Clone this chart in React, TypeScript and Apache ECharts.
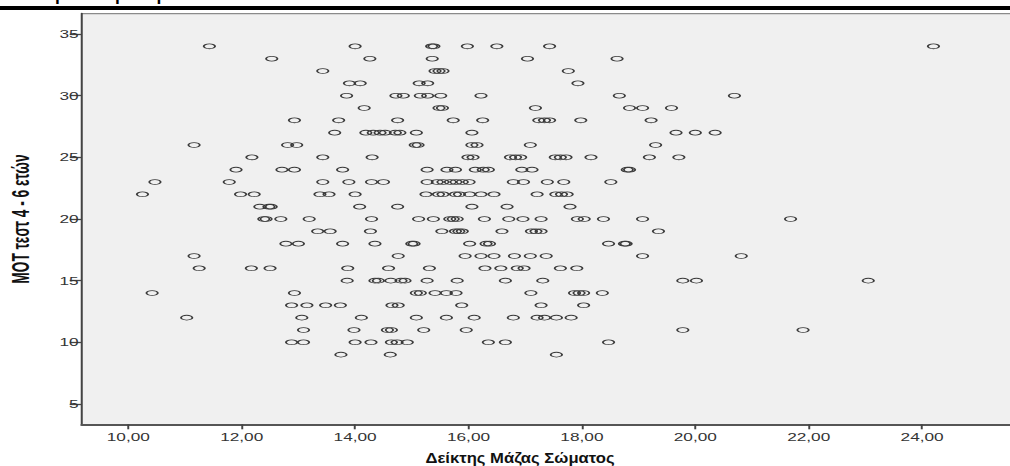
import React, { useEffect, useRef } from "react";
import * as echarts from "echarts";

// Tick labels
const xTicks = [10, 12, 14, 16, 18, 20, 22, 24];
const yTicks = [5, 10, 15, 20, 25, 30, 35];

// MOT score levels (y) and the BMI values (x) read for each level
const scoreLevels = [34, 33, 32, 31, 30, 29, 28, 27, 26, 25, 24, 23, 22, 21, 20, 19, 18, 17, 16, 15, 14, 13, 12, 11, 10, 9];
const bmiAt34 = [11.43, 14.0, 15.35, 15.39, 15.98, 16.5, 17.43, 24.2];
const bmiAt33 = [12.53, 14.26, 15.36, 17.04, 18.62];
const bmiAt32 = [13.43, 15.41, 15.48, 15.55, 17.76];
const bmiAt31 = [13.9, 14.09, 15.13, 15.28, 17.93];
const bmiAt30 = [13.85, 14.72, 14.85, 15.15, 15.28, 15.51, 16.22, 18.66, 20.69];
const bmiAt29 = [14.16, 15.48, 15.54, 17.18, 18.84, 19.07, 19.58];
const bmiAt28 = [12.93, 13.71, 14.75, 15.73, 16.25, 17.24, 17.34, 17.43, 17.98, 19.22];
const bmiAt27 = [13.64, 14.19, 14.32, 14.44, 14.53, 14.71, 14.79, 15.08, 16.06, 19.66, 20.0, 20.35];
const bmiAt26 = [11.16, 12.81, 12.97, 15.06, 15.11, 16.06, 16.15, 17.09, 19.3];
const bmiAt25 = [12.18, 13.43, 14.3, 15.99, 16.08, 16.74, 16.83, 16.92, 17.53, 17.62, 17.72, 18.16, 19.19, 19.71];
const bmiAt24 = [11.9, 12.71, 12.93, 13.78, 15.27, 15.62, 15.77, 16.12, 16.26, 16.35, 16.94, 17.12, 18.8, 18.84];
const bmiAt23 = [10.47, 11.78, 13.43, 13.89, 14.29, 14.5, 15.27, 15.45, 15.55, 15.68, 15.78, 15.89, 16.01, 16.79, 16.97, 17.39, 17.68, 18.51];
const bmiAt22 = [10.25, 11.98, 12.22, 13.38, 13.54, 14.0, 15.25, 15.47, 15.55, 15.77, 15.84, 16.02, 16.22, 16.45, 17.21, 17.54, 17.64, 17.74];
const bmiAt21 = [12.32, 12.48, 12.52, 14.08, 14.75, 16.06, 16.68, 17.79];
const bmiAt20 = [12.39, 12.43, 12.69, 13.19, 14.29, 15.12, 15.38, 15.67, 15.73, 15.8, 16.28, 16.71, 16.96, 17.28, 17.92, 18.04, 18.38, 19.07, 21.68];
const bmiAt19 = [13.34, 13.56, 14.27, 15.53, 15.77, 15.83, 15.89, 16.59, 17.11, 17.19, 17.28, 19.35];
const bmiAt18 = [12.78, 13.0, 13.78, 14.35, 15.0, 15.04, 16.02, 16.31, 16.37, 18.47, 18.75, 18.78];
const bmiAt17 = [11.16, 14.76, 15.94, 16.22, 16.45, 16.81, 17.09, 17.37, 19.07, 20.81];
const bmiAt16 = [11.25, 12.17, 12.5, 13.87, 14.59, 15.31, 16.29, 16.57, 16.86, 16.98, 17.62, 17.91];
const bmiAt15 = [13.86, 14.35, 14.41, 14.63, 14.81, 14.88, 15.27, 15.8, 16.65, 17.31, 19.78, 20.02, 23.05];
const bmiAt14 = [10.42, 12.93, 15.08, 15.15, 15.41, 15.61, 15.78, 17.1, 17.87, 17.95, 18.03, 18.36];
const bmiAt13 = [12.88, 13.15, 13.48, 13.74, 14.65, 14.76, 15.88, 17.28, 18.03];
const bmiAt12 = [11.03, 13.06, 14.11, 15.08, 15.61, 16.1, 16.79, 17.21, 17.34, 17.55, 17.81];
const bmiAt11 = [13.09, 13.98, 14.57, 14.64, 15.21, 15.96, 19.78, 21.9];
const bmiAt10 = [12.88, 13.09, 14.0, 14.28, 14.64, 14.74, 14.92, 16.35, 16.65, 18.47];
const bmiAt9 = [13.75, 14.62, 17.55];

const bmiByLevel = [
  bmiAt34, bmiAt33, bmiAt32, bmiAt31, bmiAt30, bmiAt29, bmiAt28, bmiAt27, bmiAt26,
  bmiAt25, bmiAt24, bmiAt23, bmiAt22, bmiAt21, bmiAt20, bmiAt19, bmiAt18, bmiAt17,
  bmiAt16, bmiAt15, bmiAt14, bmiAt13, bmiAt12, bmiAt11, bmiAt10, bmiAt9,
];

const xTitle = "Δείκτης Μάζας Σώματος";
const yTitle = "MOT τεστ 4 - 6 ετών";
const topFragment = "ρ";

const STRETCH = 1.5;
const W = 676;
const H = 466;
const PLOT_RIGHT = 1010 / STRETCH;
const FONT = "'Liberation Sans', Arial, Helvetica, sans-serif";

export default function App() {
  const ref = useRef<HTMLDivElement>(null);

  useEffect(() => {
    if (!ref.current) return;
    const chart = echarts.init(ref.current, null, { renderer: "svg", width: W, height: H });
    const data: number[][] = [];
    scoreLevels.forEach((score, i) => {
      bmiByLevel[i].forEach((b) => data.push([b, score]));
    });
    const gridLeft = 81.7 / STRETCH;
    const fragStyle = {
      text: topFragment,
      fontSize: 18,
      fontFamily: FONT,
      fill: "#000",
      verticalAlign: "middle",
      align: "left",
    };
    chart.setOption({
      animation: false,
      grid: {
        left: gridLeft,
        right: W - PLOT_RIGHT,
        top: 13.3,
        bottom: H - 424.3,
        show: true,
        backgroundColor: "#f0f0f0",
        borderWidth: 0,
      },
      xAxis: {
        type: "value",
        min: 9.178,
        max: 25.55,
        splitLine: { show: false },
        axisLine: { show: true, onZero: false, lineStyle: { color: "#555", width: 2 } },
        axisTick: { show: true, length: 5, customValues: xTicks, lineStyle: { color: "#444", width: 1.3 } },
        axisLabel: {
          customValues: xTicks,
          formatter: (v: number) => v.toFixed(2).replace(".", ","),
          fontSize: 11.5,
          fontFamily: FONT,
          color: "#333",
          margin: 7,
        },
      },
      yAxis: {
        type: "value",
        min: 3.35,
        max: 36.68,
        splitLine: { show: false },
        axisLine: { show: true, onZero: false, lineStyle: { color: "#444", width: 1.35 } },
        axisTick: { show: true, length: 8, customValues: yTicks, lineStyle: { color: "#444", width: 1.3 } },
        axisLabel: {
          customValues: yTicks,
          formatter: (v: number) => String(Math.round(v)),
          fontSize: 11.5,
          fontFamily: FONT,
          color: "#333",
          margin: 2,
        },
      },
      graphic: [
        { type: "text", silent: true, x: 36.3, y: -6.6, style: fragStyle },
        { type: "text", silent: true, x: 76.3, y: -6.6, style: fragStyle },
        { type: "text", silent: true, x: 104, y: -6.6, style: fragStyle },
        { type: "rect", silent: true, shape: { x: 0, y: 6, width: W, height: 4 }, style: { fill: "#000" } },
        { type: "line", silent: true, shape: { x1: gridLeft, y1: 13.6, x2: W, y2: 13.6 }, style: { stroke: "#8a8a8a", lineWidth: 1.4 } },
        {
          type: "text",
          silent: true,
          x: 520 / STRETCH,
          y: 457.5,
          scaleX: 0.74,
          style: {
            text: xTitle,
            fontSize: 15,
            fontWeight: "bold",
            fontFamily: FONT,
            fill: "#111",
            align: "center",
            verticalAlign: "middle",
          },
        },
        {
          type: "text",
          silent: true,
          x: 13.8,
          y: 219,
          rotation: Math.PI / 2,
          scaleX: 0.86,
          style: {
            text: yTitle,
            fontSize: 16,
            fontWeight: "bold",
            fontFamily: FONT,
            fill: "#111",
            align: "center",
            verticalAlign: "middle",
          },
        },
      ],
      series: [
        {
          type: "scatter",
          data,
          symbol: "path://M0,10a10,10 0 1,0 20,0a10,10 0 1,0 -20,0",
          symbolSize: [7.6, 4.8],
          itemStyle: { color: "rgba(0,0,0,0)", borderColor: "#3a3a3a", borderWidth: 1.0, opacity: 1 },
          emphasis: { disabled: true },
        },
      ],
    });
    return () => chart.dispose();
  }, []);

  return (
    <div
      ref={ref}
      style={{
        position: "absolute",
        left: 0,
        top: 0,
        width: W,
        height: H,
        transform: `scaleX(${STRETCH})`,
        transformOrigin: "0 0",
        background: "#fff",
        overflow: "hidden",
      }}
    />
  );
}
